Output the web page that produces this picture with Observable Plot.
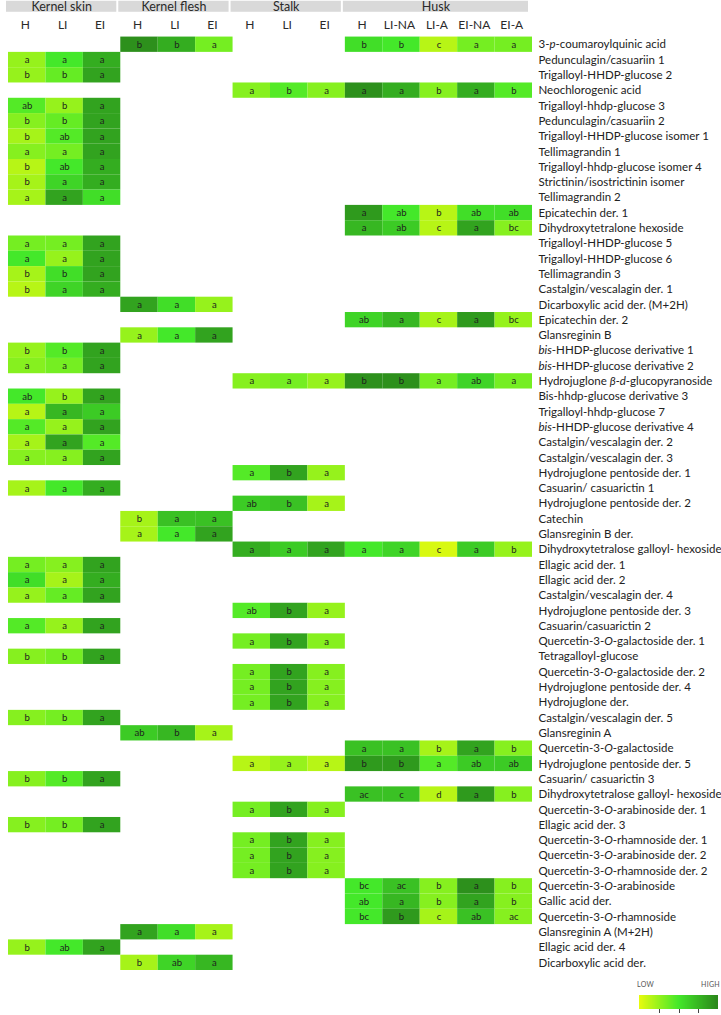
<!DOCTYPE html>
<html><head><meta charset="utf-8">
<script src="https://cdn.jsdelivr.net/npm/d3@7"></script>
<script src="https://cdn.jsdelivr.net/npm/@observablehq/plot@0.6"></script>
<style>
body{margin:0;background:#fff;font-family:Lato,"Noto Sans",sans-serif;}
#wrap{position:relative;width:721px;height:1015px;overflow:hidden;}
.lg{position:absolute;font-size:7px;color:#555;font-family:Lato,sans-serif;letter-spacing:0.3px}
#legend{position:absolute;left:639px;top:995px;}
</style></head><body><div id="wrap"></div>
<script>
const _ = null;
const groups = ["Kernel skin", "Kernel flesh", "Stalk", "Husk"];
const groupSizes = [3, 3, 3, 5];
const columns = ["H","LI","EI", "H","LI","EI", "H","LI","EI", "H","LI-NA","LI-A","EI-NA","EI-A"];
const compounds = [
  "3-p-coumaroylquinic acid","Pedunculagin/casuariin 1","Trigalloyl-HHDP-glucose 2","Neochlorogenic acid",
  "Trigalloyl-hhdp-glucose 3","Pedunculagin/casuariin 2","Trigalloyl-HHDP-glucose isomer 1","Tellimagrandin 1",
  "Trigalloyl-hhdp-glucose isomer 4","Strictinin/isostrictinin isomer","Tellimagrandin 2","Epicatechin der. 1",
  "Dihydroxytetralone hexoside","Trigalloyl-HHDP-glucose 5","Trigalloyl-HHDP-glucose 6","Tellimagrandin 3",
  "Castalgin/vescalagin der. 1","Dicarboxylic acid der. (M+2H)","Epicatechin der. 2","Glansreginin B",
  "bis-HHDP-glucose derivative 1","bis-HHDP-glucose derivative 2","Hydrojuglone β-d-glucopyranoside","Bis-hhdp-glucose derivative 3",
  "Trigalloyl-hhdp-glucose 7","bis-HHDP-glucose derivative 4","Castalgin/vescalagin der. 2","Castalgin/vescalagin der. 3",
  "Hydrojuglone pentoside der. 1","Casuarin/ casuarictin 1","Hydrojuglone pentoside der. 2","Catechin",
  "Glansreginin B der.","Dihydroxytetralose galloyl- hexoside","Ellagic acid der. 1","Ellagic acid der. 2",
  "Castalgin/vescalagin der. 4","Hydrojuglone pentoside der. 3","Casuarin/casuarictin 2","Quercetin-3-O-galactoside der. 1",
  "Tetragalloyl-glucose","Quercetin-3-O-galactoside der. 2","Hydrojuglone pentoside der. 4","Hydrojuglone der.",
  "Castalgin/vescalagin der. 5","Glansreginin A","Quercetin-3-O-galactoside","Hydrojuglone pentoside der. 5",
  "Casuarin/ casuarictin 3","Dihydroxytetralose galloyl- hexoside","Quercetin-3-O-arabinoside der. 1","Ellagic acid der. 3",
  "Quercetin-3-O-rhamnoside der. 1","Quercetin-3-O-arabinoside der. 2","Quercetin-3-O-rhamnoside der. 2","Quercetin-3-O-arabinoside",
  "Gallic acid der.","Quercetin-3-O-rhamnoside","Glansreginin A (M+2H)","Ellagic acid der. 4","Dicarboxylic acid der."
];
// relative intensity (0 = low, 10 = high); columns: Kernel skin (3), Kernel flesh (3), Stalk (3), Husk (5)
const intensity = [
  [_,_,_, 9.5,8,3.5, _,_,_, 5.5,5,1.5,3.5,3.5],
  [2.5,5,8, _,_,_, _,_,_, _,_,_,_,_],
  [2.5,4,8.5, _,_,_, _,_,_, _,_,_,_,_],
  [_,_,_, _,_,_, 3,4.5,3, 9.5,8,3,8,4.5],
  [4.5,2.5,8.5, _,_,_, _,_,_, _,_,_,_,_],
  [3,4,8.5, _,_,_, _,_,_, _,_,_,_,_],
  [2,4.5,8.5, _,_,_, _,_,_, _,_,_,_,_],
  [3,3.5,8.5, _,_,_, _,_,_, _,_,_,_,_],
  [1.5,5,8, _,_,_, _,_,_, _,_,_,_,_],
  [2,6,8, _,_,_, _,_,_, _,_,_,_,_],
  [2,8.5,5.5, _,_,_, _,_,_, _,_,_,_,_],
  [_,_,_, _,_,_, _,_,_, 9,5,1.5,5.5,5.5],
  [_,_,_, _,_,_, _,_,_, 7.5,6.5,1.5,8.5,3],
  [3.5,3.5,8.5, _,_,_, _,_,_, _,_,_,_,_],
  [5,2.5,8.5, _,_,_, _,_,_, _,_,_,_,_],
  [2,5.5,8.5, _,_,_, _,_,_, _,_,_,_,_],
  [1.5,6,8, _,_,_, _,_,_, _,_,_,_,_],
  [_,_,_, 8.5,5.5,2.5, _,_,_, _,_,_,_,_],
  [_,_,_, _,_,_, _,_,_, 6,7.5,2,9,2.5],
  [_,_,_, 2.5,5,8.5, _,_,_, _,_,_,_,_],
  [2.5,4.5,8.5, _,_,_, _,_,_, _,_,_,_,_],
  [3,3.5,8.5, _,_,_, _,_,_, _,_,_,_,_],
  [_,_,_, _,_,_, 3,3.5,2.5, 9.5,9.5,3.5,6,3.5],
  [5,2.5,8.5, _,_,_, _,_,_, _,_,_,_,_],
  [1.5,7.5,6.5, _,_,_, _,_,_, _,_,_,_,_],
  [4.5,2.5,8.5, _,_,_, _,_,_, _,_,_,_,_],
  [2,8.5,4.5, _,_,_, _,_,_, _,_,_,_,_],
  [3,3,8.5, _,_,_, _,_,_, _,_,_,_,_],
  [_,_,_, _,_,_, 4.5,8.5,2.5, _,_,_,_,_],
  [2,5,8, _,_,_, _,_,_, _,_,_,_,_],
  [_,_,_, _,_,_, 6.5,7,2, _,_,_,_,_],
  [_,_,_, 2,7,7, _,_,_, _,_,_,_,_],
  [_,_,_, 2,5,8.5, _,_,_, _,_,_,_,_],
  [_,_,_, _,_,_, 8,6.5,8.5, 5,6,0.5,6.5,2.5],
  [3.5,3,8.5, _,_,_, _,_,_, _,_,_,_,_],
  [5.5,2,8, _,_,_, _,_,_, _,_,_,_,_],
  [2.5,4,8.5, _,_,_, _,_,_, _,_,_,_,_],
  [_,_,_, _,_,_, 4.5,8.5,2.5, _,_,_,_,_],
  [4.5,2.5,8.5, _,_,_, _,_,_, _,_,_,_,_],
  [_,_,_, _,_,_, 3.5,8.5,3, _,_,_,_,_],
  [3,3.5,8.5, _,_,_, _,_,_, _,_,_,_,_],
  [_,_,_, _,_,_, 3.5,8.5,3, _,_,_,_,_],
  [_,_,_, _,_,_, 3.5,8.5,3, _,_,_,_,_],
  [_,_,_, _,_,_, 3.5,8.5,3, _,_,_,_,_],
  [3,3.5,8.5, _,_,_, _,_,_, _,_,_,_,_],
  [_,_,_, 6.5,7.5,2, _,_,_, _,_,_,_,_],
  [_,_,_, _,_,_, _,_,_, 7,7,2,8.5,3],
  [_,_,_, _,_,_, 1.5,2.5,1.5, 9,9,4.5,6.5,6.5],
  [3,4.5,8.5, _,_,_, _,_,_, _,_,_,_,_],
  [_,_,_, _,_,_, _,_,_, 7,7,1.5,9,3],
  [_,_,_, _,_,_, 3.5,8.5,3, _,_,_,_,_],
  [3,3.5,8.5, _,_,_, _,_,_, _,_,_,_,_],
  [_,_,_, _,_,_, 3.5,8.5,3, _,_,_,_,_],
  [_,_,_, _,_,_, 3.5,8.5,3, _,_,_,_,_],
  [_,_,_, _,_,_, 3.5,8.5,3, _,_,_,_,_],
  [_,_,_, _,_,_, _,_,_, 5,7,3,9.5,3],
  [_,_,_, _,_,_, _,_,_, 5,7.5,3,8.5,3],
  [_,_,_, _,_,_, _,_,_, 5,9,2,7,3],
  [_,_,_, 8.5,5.5,2, _,_,_, _,_,_,_,_],
  [2.5,5,8.5, _,_,_, _,_,_, _,_,_,_,_],
  [_,_,_, 2,6,7.5, _,_,_, _,_,_,_,_]
];
// significance letters, same layout ("-" = no cell)
const letters = [
  "- - - b b a - - - b b c a a",
  "a a a - - - - - - - - - - -",
  "b b a - - - - - - - - - - -",
  "- - - - - - a b a a a b a b",
  "ab b a - - - - - - - - - - -",
  "b b a - - - - - - - - - - -",
  "b ab a - - - - - - - - - - -",
  "a a a - - - - - - - - - - -",
  "b ab a - - - - - - - - - - -",
  "b a a - - - - - - - - - - -",
  "a a a - - - - - - - - - - -",
  "- - - - - - - - - a ab b ab ab",
  "- - - - - - - - - a ab c a bc",
  "a a a - - - - - - - - - - -",
  "a a a - - - - - - - - - - -",
  "b b a - - - - - - - - - - -",
  "b a a - - - - - - - - - - -",
  "- - - a a a - - - - - - - -",
  "- - - - - - - - - ab a c a bc",
  "- - - a a a - - - - - - - -",
  "b b a - - - - - - - - - - -",
  "a a a - - - - - - - - - - -",
  "- - - - - - a a a b b a ab a",
  "ab b a - - - - - - - - - - -",
  "a a a - - - - - - - - - - -",
  "a a a - - - - - - - - - - -",
  "a a a - - - - - - - - - - -",
  "a a a - - - - - - - - - - -",
  "- - - - - - a b a - - - - -",
  "a a a - - - - - - - - - - -",
  "- - - - - - ab b a - - - - -",
  "- - - b a a - - - - - - - -",
  "- - - a a a - - - - - - - -",
  "- - - - - - a a a a a c a b",
  "a a a - - - - - - - - - - -",
  "a a a - - - - - - - - - - -",
  "a a a - - - - - - - - - - -",
  "- - - - - - ab b a - - - - -",
  "a a a - - - - - - - - - - -",
  "- - - - - - a b a - - - - -",
  "b b a - - - - - - - - - - -",
  "- - - - - - a b a - - - - -",
  "- - - - - - a b a - - - - -",
  "- - - - - - a b a - - - - -",
  "b b a - - - - - - - - - - -",
  "- - - ab b a - - - - - - - -",
  "- - - - - - - - - a a b a b",
  "- - - - - - a a a b b a ab ab",
  "b b a - - - - - - - - - - -",
  "- - - - - - - - - ac c d a b",
  "- - - - - - a b a - - - - -",
  "b b a - - - - - - - - - - -",
  "- - - - - - a b a - - - - -",
  "- - - - - - a b a - - - - -",
  "- - - - - - a b a - - - - -",
  "- - - - - - - - - bc ac b a b",
  "- - - - - - - - - ab a b a b",
  "- - - - - - - - - bc b c ab ac",
  "- - - a a a - - - - - - - -",
  "b ab a - - - - - - - - - - -",
  "- - - b ab a - - - - - - - -"
];
const legendLabels = ["LOW", "HIGH"];
const legendTicks = [2.5, 5, 7.5];

const cells = [];
compounds.forEach((name, r) => {
  const lt = letters[r].split(" ");
  intensity[r].forEach((v, c) => { if (v != null) cells.push({r, c, v, t: lt[c]}); });
});
const groupData = groups.map((g, i) => ({
  g, start: d3.sum(groupSizes.slice(0, i)), end: d3.sum(groupSizes.slice(0, i + 1))
}));
const colIdx = d3.range(columns.length);

const plot = Plot.plot({
  width: 721,
  height: 975,
  marginLeft: 8,
  marginRight: 189,
  marginTop: 0,
  marginBottom: 5,
  style: {fontFamily: "Lato, 'Noto Sans', sans-serif", background: "white"},
  x: {type: "linear", domain: [0, 14], axis: null},
  y: {type: "linear", domain: [-2.39, 61], reverse: true, axis: null},
  color: {type: "linear", domain: [0, 5, 10], range: ["#e8fb0e", "#44e82a", "#2a861a"], interpolate: "rgb"},
  marks: [
    Plot.rect(groupData, {x1: "start", x2: "end", y1: () => -2.34, y2: () => -1.62, fill: "#d9d9d9", insetLeft: 1, insetRight: 1, dx: -3}),
    Plot.text(groupData, {x: d => (d.start + d.end) / 2, y: () => -1.96, text: "g", dx: -3, fontSize: 12.5, fill: "#2a2a2a"}),
    Plot.text(colIdx, {x: i => i + 0.5, y: () => -0.76, text: i => columns[i], dx: -2, fontSize: 12, fill: "#2a2a2a"}),
    Plot.rect(cells, {x1: "c", x2: d => d.c + 1, y1: "r", y2: d => d.r + 1, fill: "v"}),
    Plot.text(cells, {x: d => d.c + 0.5, y: d => d.r + 0.5, text: "t", fontSize: 9.5, fill: "#1e1e1e"}),
    Plot.text(compounds, {x: () => 14, y: (d, i) => i + 0.5, text: d => d, textAnchor: "start", dx: 6, fontSize: 11.5, fill: "#222"})
  ]
});

// italic parts of compound names
const nameSet = new Set(compounds);
const italRe = /(^bis(?=-)|(?<=3-)p(?=-)|(?<=-)O(?=-)|β-d(?=-))/;
plot.querySelectorAll("text").forEach(el => {
  const s = el.textContent;
  if (!nameSet.has(s)) return;
  const parts = s.split(italRe);
  if (parts.length < 2) return;
  while (el.firstChild) el.removeChild(el.firstChild);
  parts.forEach((p, k) => {
    if (!p) return;
    const t = document.createElementNS("http://www.w3.org/2000/svg", "tspan");
    t.textContent = p;
    if (k % 2) t.setAttribute("font-style", "italic");
    el.appendChild(t);
  });
});

const wrap = document.getElementById("wrap");
wrap.appendChild(plot);

const legend = plot.legend("color", {
  width: 79, height: 19, marginTop: 0, marginBottom: 5, marginLeft: 0, marginRight: 0,
  tickSize: 4, ticks: legendTicks, tickFormat: () => "", label: null
});
legend.id = "legend";
d3.select(legend).selectAll(".tick line").attr("y1", 0).attr("y2", 4).attr("stroke", "#444");
wrap.appendChild(legend);

const low = document.createElement("div");
low.className = "lg"; low.style.left = "637px"; low.style.top = "980px"; low.textContent = legendLabels[0];
const high = document.createElement("div");
high.className = "lg"; high.style.left = "701px"; high.style.top = "980px"; high.textContent = legendLabels[1];
wrap.appendChild(low); wrap.appendChild(high);
</script></body></html>
